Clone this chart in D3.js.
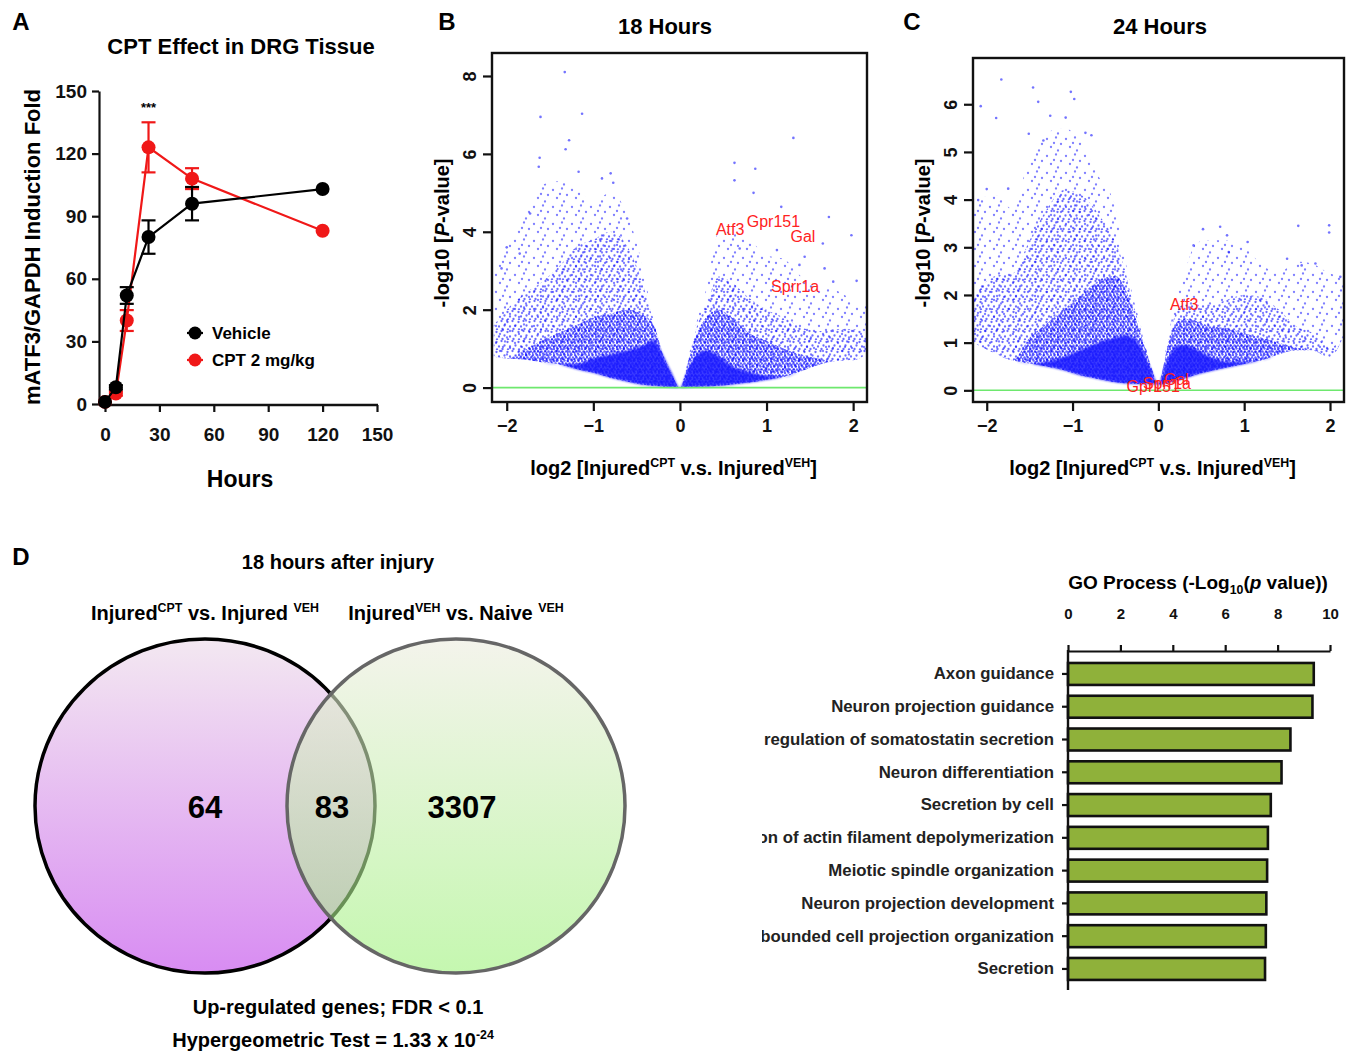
<!DOCTYPE html>
<html>
<head>
<meta charset="utf-8">
<script src="https://cdn.jsdelivr.net/npm/d3@7"></script>
<style>
  body { margin: 0; background: #fff; }
  text { font-family: "Liberation Sans", Arial, sans-serif; }
</style>
</head>
<body>
<svg id="fig" width="1352" height="1053"></svg>
<script>
// ---------- Panel A: ATF3 time course ----------
const hours = [0, 6, 12, 24, 48, 120];
const vehicleMean = [1, 8, 52, 80, 96, 103];
const vehicleErr = [0, 1, 4, 8, 8, 0];
const cptMean = [1, 5, 40, 123, 108, 83];
const cptErr = [0, 1, 5, 12, 5, 0];
const aTicks = [0, 30, 60, 90, 120, 150];

// ---------- Panel B: volcano 18 h (cloud outline and density bands) ----------
const volcBX = [-2.15, -2.0, -1.8, -1.6, -1.4, -1.2, -1.0, -0.8, -0.6, -0.45, -0.3, -0.2, -0.1, 0,
                0.1, 0.2, 0.3, 0.45, 0.6, 0.8, 1.0, 1.2, 1.4, 1.6, 1.8, 2.0, 2.15];
const volcBLow = [0.8, 0.75, 0.72, 0.65, 0.6, 0.48, 0.38, 0.25, 0.15, 0.08, 0.05, 0.03, 0.01, 0,
                  0.01, 0.02, 0.03, 0.05, 0.08, 0.13, 0.2, 0.28, 0.42, 0.58, 0.68, 0.7, 0.85];
const volcBSparse = [2.9, 3.6, 4.4, 5.2, 5.3, 5.1, 4.8, 5.0, 4.4, 3.3, 1.7, 0.88, 0.4, 0,
                     0.8, 1.75, 2.5, 4.0, 4.0, 3.8, 3.4, 3.3, 2.85, 2.6, 2.5, 2.25, 2.1];
const volcBMedium = [1.6, 2.0, 2.4, 2.7, 3.1, 3.6, 3.8, 4.0, 3.6, 2.8, 1.65, 0.85, 0.4, 0,
                     0.75, 1.6, 2.1, 2.85, 2.7, 2.3, 2.0, 1.8, 1.55, 1.45, 1.5, 1.5, 1.4];
const volcBDense = [0, 0, 0.95, 1.2, 1.4, 1.6, 1.8, 1.9, 2.0, 1.9, 1.6, 0.88, 0.4, 0,
                    0.7, 1.4, 1.8, 2.0, 1.8, 1.4, 1.2, 1.0, 0.85, 0.75, 0, 0, 0];
const volcBSolid = [0, 0, 0, 0, 0, 0.6, 0.75, 0.85, 0.95, 1.05, 1.2, 0.85, 0.4, 0,
                    0.5, 0.85, 0.95, 0.8, 0.55, 0.4, 0.3, 0, 0, 0, 0, 0, 0];
const volcBOut = [[-1.33, 8.1], [-1.61, 6.95], [-1.13, 7.03], [-1.28, 6.35], [-1.32, 6.12], [-1.62, 5.9],
                  [-1.63, 5.67], [-1.17, 5.54], [-0.8, 5.5], [-0.77, 5.26], [-0.9, 5.37], [1.31, 6.41],
                  [0.63, 5.77], [0.63, 5.32], [0.87, 5.62], [0.85, 5.0], [1.17, 4.64], [1.72, 4.38],
                  [1.98, 3.91], [1.65, 3.7], [1.38, 3.15], [1.67, 3.06], [1.77, 2.72], [2.04, 2.74],
                  [-2.06, 3.06], [-2.0, 3.6], [-1.85, 3.44], [-1.73, 4.47], [-0.61, 4.34], [1.12, 3.53],
                  [1.44, 3.36], [0.69, 3.57]];
const volcBGenes = ["Atf3", "Gpr151", "Gal", "Sprr1a"];
const volcBGeneXY = [[0.58, 4.04], [1.08, 4.26], [1.42, 3.87], [1.33, 2.59]];

// ---------- Panel C: volcano 24 h ----------
const volcCX = [-2.15, -1.9, -1.7, -1.5, -1.3, -1.1, -0.9, -0.7, -0.5, -0.4, -0.3, -0.2, -0.1, 0,
                0.1, 0.2, 0.3, 0.45, 0.6, 0.8, 1.0, 1.2, 1.4, 1.6, 1.8, 2.0, 2.15];
const volcCLow = [1.0, 0.77, 0.63, 0.56, 0.5, 0.42, 0.31, 0.24, 0.17, 0.15, 0.14, 0.13, 0.13, 0.12,
                  0.15, 0.2, 0.25, 0.33, 0.4, 0.48, 0.55, 0.63, 0.75, 0.84, 0.84, 0.7, 1.1];
const volcCSparse = [4.0, 4.1, 3.8, 4.9, 5.4, 5.5, 5.2, 4.5, 3.85, 2.87, 2.0, 1.33, 0.63, 0.15,
                     0.98, 1.9, 2.45, 3.1, 3.15, 3.15, 3.0, 2.65, 2.45, 2.7, 2.65, 2.45, 2.4];
const volcCMedium = [2.0, 2.4, 2.45, 3.15, 3.8, 4.2, 4.1, 3.7, 3.1, 2.6, 1.85, 1.25, 0.6, 0.15,
                     0.9, 1.6, 1.8, 1.8, 1.8, 1.9, 2.0, 1.95, 1.7, 1.35, 1.2, 0.9, 0];
const volcCDense = [0, 0, 0, 1.1, 1.4, 1.7, 2.0, 2.3, 2.4, 2.2, 1.7, 1.15, 0.58, 0.14,
                    0.85, 1.4, 1.5, 1.45, 1.35, 1.3, 1.2, 1.1, 1.0, 0.9, 0, 0, 0];
const volcCSolid = [0, 0, 0, 0, 0.6, 0.7, 0.85, 1.0, 1.1, 1.15, 1.1, 0.9, 0.5, 0.14,
                    0.6, 0.9, 0.95, 0.85, 0.7, 0.6, 0.6, 0, 0, 0, 0, 0, 0];
const volcCOut = [[-1.83, 6.52], [-2.07, 5.96], [-1.89, 5.71], [-1.46, 6.35], [-1.4, 6.05], [-1.02, 6.26],
                  [-0.98, 6.11], [-1.26, 5.76], [-1.08, 5.72], [-1.51, 5.38], [-1.34, 5.24], [-0.85, 5.4],
                  [-0.78, 5.35], [-2.0, 4.22], [-2.1, 3.99], [-1.75, 4.23], [0.52, 3.38], [0.72, 3.43],
                  [0.8, 3.25], [1.04, 3.11], [1.63, 3.45], [1.99, 3.46], [1.99, 3.31], [1.5, 2.76],
                  [1.67, 2.62], [1.83, 2.66], [2.12, 2.38], [0.41, 3.04], [0.82, 2.9]];
const volcCGenes = ["Atf3", "Gpr151", "Sprr1a", "Gal"];
const volcCGeneXY = [[0.3, 1.78], [-0.06, 0.07], [0.1, 0.14], [0.21, 0.21]];
const volcXTicks = [-2, -1, 0, 1, 2];

// ---------- Panel D: Venn counts ----------
const vennCounts = [64, 83, 3307];

// ---------- Panel D: GO processes ----------
const goTerms = ["Axon guidance", "Neuron projection guidance", "regulation of somatostatin secretion",
                 "Neuron differentiation", "Secretion by cell", "Regulation of actin filament depolymerization",
                 "Meiotic spindle organization", "Neuron projection development",
                 "Plasma membrane bounded cell projection organization", "Secretion"];
const goValues = [9.38, 9.33, 8.49, 8.15, 7.74, 7.63, 7.6, 7.57, 7.55, 7.52];
const goTicks = [0, 2, 4, 6, 8, 10];

const svg = d3.select("#fig");
const defs = svg.append("defs");
svg.append("rect").attr("width", 1352).attr("height", 1053).attr("fill", "#fff");

// write text made of plain / superscript / subscript / italic pieces
function richText(sel, parts, size) {
  let shift = 0;
  parts.forEach(([t, kind]) => {
    const ts = sel.append("tspan").text(t);
    let target = 0;
    if (kind === "sup") { target = -size * 0.42; ts.attr("font-size", size * 0.62); }
    if (kind === "sub") { target = size * 0.25; ts.attr("font-size", size * 0.65); }
    if (kind === "i") ts.attr("font-style", "italic");
    ts.attr("dy", target - shift);
    shift = target;
  });
}

function panelLetter(letter, x, y) {
  svg.append("text").attr("x", x).attr("y", y).attr("font-size", 24).attr("font-weight", "bold")
    .attr("text-anchor", "middle").text(letter);
}

function styleAxis(g, size) {
  g.selectAll("text").attr("font-size", size).attr("font-weight", "bold").attr("fill", "#111");
  g.selectAll("line, path").attr("stroke", "#111").attr("stroke-width", 2.2);
}

// ================= Panel A =================
function drawPanelA() {
  const x = d3.scaleLinear().domain([0, 150]).range([105, 377]);
  const y = d3.scaleLinear().domain([0, 150]).range([404, 91]);
  const g = svg.append("g");

  const yAxis = g.append("g").attr("transform", "translate(99,0)")
    .call(d3.axisLeft(y).tickValues(aTicks).tickSize(7).tickPadding(5).tickSizeOuter(0));
  styleAxis(yAxis, 19);
  const xAxis = g.append("g").attr("transform", "translate(0,405)")
    .call(d3.axisBottom(x).tickValues(aTicks).tickSize(7).tickPadding(16).tickSizeOuter(0));
  xAxis.select(".domain").remove();
  styleAxis(xAxis, 19);
  g.append("line").attr("x1", 99).attr("x2", 378).attr("y1", 405).attr("y2", 405)
    .attr("stroke", "#111").attr("stroke-width", 2.4);

  const series = [
    { mean: cptMean, err: cptErr, color: "#f01818" },
    { mean: vehicleMean, err: vehicleErr, color: "#000" }
  ];
  series.forEach(s => {
    const pts = hours.map((h, i) => ({ h, m: s.mean[i], e: s.err[i] }));
    g.append("path").datum(pts)
      .attr("d", d3.line().x(d => x(d.h)).y(d => y(d.m)))
      .attr("fill", "none").attr("stroke", s.color).attr("stroke-width", 2.2);
    const eb = g.append("g").selectAll("g").data(pts.filter(d => d.e > 0)).enter().append("g")
      .attr("stroke", s.color).attr("stroke-width", 2.2);
    eb.append("line").attr("x1", d => x(d.h)).attr("x2", d => x(d.h))
      .attr("y1", d => y(d.m - d.e)).attr("y2", d => y(d.m + d.e));
    [-1, 1].forEach(sign => {
      eb.append("line").attr("x1", d => x(d.h) - 7).attr("x2", d => x(d.h) + 7)
        .attr("y1", d => y(d.m + sign * d.e)).attr("y2", d => y(d.m + sign * d.e));
    });
    g.append("g").selectAll("circle").data(pts).enter().append("circle")
      .attr("cx", d => x(d.h)).attr("cy", d => y(d.m)).attr("r", 7).attr("fill", s.color);
  });

  g.append("text").attr("x", x(24)).attr("y", 112).attr("text-anchor", "middle")
    .attr("font-size", 13).attr("font-weight", "bold").text("***");

  // legend
  [["Vehicle", "#000", 333], ["CPT 2 mg/kg", "#f01818", 360]].forEach(([lab, c, ly]) => {
    g.append("line").attr("x1", 187).attr("x2", 203).attr("y1", ly).attr("y2", ly)
      .attr("stroke", c).attr("stroke-width", 2.2);
    g.append("circle").attr("cx", 195).attr("cy", ly).attr("r", 6.5).attr("fill", c);
    g.append("text").attr("x", 212).attr("y", ly + 6).attr("font-size", 17).attr("font-weight", "bold").text(lab);
  });

  g.append("text").attr("x", 241).attr("y", 54).attr("text-anchor", "middle")
    .attr("font-size", 22).attr("font-weight", "bold").text("CPT Effect in DRG Tissue");
  g.append("text").attr("transform", "translate(40,247) rotate(-90)").attr("text-anchor", "middle")
    .attr("font-size", 22).attr("font-weight", "bold").text("mATF3/GAPDH Induction Fold");
  g.append("text").attr("x", 240).attr("y", 487).attr("text-anchor", "middle")
    .attr("font-size", 23).attr("font-weight", "bold").text("Hours");
  panelLetter("A", 21, 30);
}

// ================= Volcano panels =================
function makeDotPattern(id, w, h, dots, r, op) {
  const p = defs.append("pattern").attr("id", id).attr("patternUnits", "userSpaceOnUse")
    .attr("width", w).attr("height", h);
  dots.forEach(([dx, dy]) => p.append("circle").attr("cx", dx).attr("cy", dy).attr("r", r)
    .attr("fill", "#0000ff").attr("fill-opacity", op));
}
makeDotPattern("dotsSparse", 19, 17, [[2, 3], [11, 1.5], [16, 8], [6, 11], [13, 14.5], [9, 7]], 1.15, 0.5);
makeDotPattern("dotsMedium", 11, 10, [[1.5, 2], [6.5, 1], [9.5, 5.5], [4, 6.5], [7.5, 9], [2, 9.5]], 1.15, 0.58);
makeDotPattern("dotsDense", 7, 6, [[1, 1], [4.5, 0.5], [6, 3.5], [2.5, 3.5], [4, 5.5], [0.5, 5]], 1.2, 0.62);
// soft edge for the saturated core of each cloud
const soften = defs.append("filter").attr("id", "soften").attr("x", "-5%").attr("y", "-5%")
  .attr("width", "110%").attr("height", "110%");
soften.append("feGaussianBlur").attr("stdDeviation", 1.3);

function drawVolcano(o) {
  const x = d3.scaleLinear().domain(o.xDomain).range([o.left, o.right]);
  const y = d3.scaleLinear().domain(o.yDomain).range([o.bottom, o.top]);
  const g = svg.append("g");
  defs.append("clipPath").attr("id", o.id + "Clip").append("rect")
    .attr("x", o.left).attr("y", o.top).attr("width", o.right - o.left).attr("height", o.bottom - o.top);
  const plot = g.append("g").attr("clip-path", `url(#${o.id}Clip)`);

  const layer = (tops, fill, filter) => {
    const area = d3.area()
      .x((d, i) => x(o.xs[i]))
      .y0((d, i) => y(o.low[i]))
      .y1((d, i) => y(Math.max(o.low[i], tops[i])))
      .curve(d3.curveMonotoneX);
    const p = plot.append("path").datum(tops).attr("d", area).attr("fill", fill);
    if (filter) p.attr("filter", filter);
  };
  layer(o.sparse, "url(#dotsSparse)");
  layer(o.medium, "url(#dotsMedium)");
  layer(o.dense, "url(#dotsDense)");
  layer(o.solid, "rgba(25,25,255,0.85)", "url(#soften)");

  plot.append("g").selectAll("circle").data(o.outliers).enter().append("circle")
    .attr("cx", d => x(d[0])).attr("cy", d => y(d[1])).attr("r", 1.3)
    .attr("fill", "#0000ff").attr("fill-opacity", 0.55);

  plot.append("line").attr("x1", o.left).attr("x2", o.right).attr("y1", y(0)).attr("y2", y(0))
    .attr("stroke", "#6ee86e").attr("stroke-width", 1.6);

  g.append("g").selectAll("text").data(o.genes).enter().append("text")
    .attr("x", (d, i) => x(o.geneXY[i][0])).attr("y", (d, i) => y(o.geneXY[i][1]) + 5)
    .attr("text-anchor", "middle").attr("font-size", 16).attr("fill", "#ff2222").text(d => d);

  const xAxis = g.append("g").attr("transform", `translate(0,${o.bottom})`)
    .call(d3.axisBottom(x).tickValues(volcXTicks).tickSize(9).tickPadding(8).tickSizeOuter(0)
      .tickFormat(d3.format("d")));
  xAxis.select(".domain").remove();
  styleAxis(xAxis, 18);
  const yAxis = g.append("g").attr("transform", `translate(${o.left},0)`)
    .call(d3.axisLeft(y).tickValues(o.yTicks).tickSize(9).tickSizeOuter(0));
  yAxis.select(".domain").remove();
  styleAxis(yAxis, 18);
  yAxis.selectAll(".tick text").attr("x", null).attr("dy", null)
    .attr("text-anchor", "middle").attr("transform", "translate(-16,0) rotate(-90)");

  g.append("rect").attr("x", o.left).attr("y", o.top).attr("width", o.right - o.left)
    .attr("height", o.bottom - o.top).attr("fill", "none").attr("stroke", "#111").attr("stroke-width", 2.4);

  g.append("text").attr("x", o.titleX).attr("y", 34).attr("text-anchor", "middle")
    .attr("font-size", 22).attr("font-weight", "bold").text(o.title);
  const yl = g.append("text").attr("transform", `translate(${o.left - 43},${o.yLabelY}) rotate(-90)`)
    .attr("text-anchor", "middle").attr("font-size", 20).attr("font-weight", "bold");
  richText(yl, [["-log10 [", null], ["P", "i"], ["-value]", null]], 20);
  const xl = g.append("text").attr("x", (o.left + o.right) / 2 - 6).attr("y", 475)
    .attr("text-anchor", "middle").attr("font-size", 20).attr("font-weight", "bold");
  richText(xl, [["log2 [Injured", null], ["CPT", "sup"], [" v.s. Injured", null], ["VEH", "sup"], ["]", null]], 20);
  panelLetter(o.letter, o.letterX, 30);
}

// ================= Venn =================
function drawVenn() {
  const g = svg.append("g");
  const grad = (id, top, bottom) => {
    const lg = defs.append("linearGradient").attr("id", id).attr("x1", 0).attr("y1", 0).attr("x2", 0).attr("y2", 1);
    lg.append("stop").attr("offset", "0%").attr("stop-color", top);
    lg.append("stop").attr("offset", "100%").attr("stop-color", bottom);
  };
  grad("vennLeft", "#f3e8f1", "#d88cf2");
  grad("vennRight", "#ececde", "#9ef27b");

  g.append("ellipse").attr("cx", 205).attr("cy", 806).attr("rx", 170).attr("ry", 167)
    .attr("fill", "url(#vennLeft)").attr("stroke", "#000").attr("stroke-width", 3.5);
  g.append("ellipse").attr("cx", 456).attr("cy", 806).attr("rx", 169).attr("ry", 167)
    .attr("fill", "url(#vennRight)").attr("fill-opacity", 0.6)
    .attr("stroke", "#666").attr("stroke-width", 3.5);

  const xs = [205, 332, 462];
  g.selectAll("text.count").data(vennCounts).enter().append("text").attr("class", "count")
    .attr("x", (d, i) => xs[i]).attr("y", 818).attr("text-anchor", "middle")
    .attr("font-size", 31).attr("font-weight", "bold").text(d => d);

  g.append("text").attr("x", 338).attr("y", 569).attr("text-anchor", "middle")
    .attr("font-size", 20).attr("font-weight", "bold").text("18 hours after injury");
  const l1 = g.append("text").attr("x", 205).attr("y", 620).attr("text-anchor", "middle")
    .attr("font-size", 20).attr("font-weight", "bold");
  richText(l1, [["Injured", null], ["CPT", "sup"], [" vs. Injured ", null], ["VEH", "sup"]], 20);
  const l2 = g.append("text").attr("x", 456).attr("y", 620).attr("text-anchor", "middle")
    .attr("font-size", 20).attr("font-weight", "bold");
  richText(l2, [["Injured", null], ["VEH", "sup"], [" vs. Naive ", null], ["VEH", "sup"]], 20);
  g.append("text").attr("x", 338).attr("y", 1014).attr("text-anchor", "middle")
    .attr("font-size", 20).attr("font-weight", "bold").text("Up-regulated genes; FDR < 0.1");
  const l3 = g.append("text").attr("x", 333).attr("y", 1047).attr("text-anchor", "middle")
    .attr("font-size", 20).attr("font-weight", "bold");
  richText(l3, [["Hypergeometric Test = 1.33 x 10", null], ["-24", "sup"]], 20);
  panelLetter("D", 21, 565);
}

// ================= GO bars =================
function drawGO() {
  const x = d3.scaleLinear().domain([0, 10]).range([1068, 1330]);
  const y = d3.scaleBand().domain(goTerms).range([657.4, 985.5]).paddingInner(0.33).paddingOuter(0.17);
  const g = svg.append("g");
  defs.append("clipPath").attr("id", "goClip").append("rect")
    .attr("x", 762).attr("y", 600).attr("width", 590).attr("height", 420);

  g.append("g").selectAll("rect").data(goTerms).enter().append("rect")
    .attr("x", x(0)).attr("y", d => y(d)).attr("width", (d, i) => x(goValues[i]) - x(0))
    .attr("height", y.bandwidth()).attr("fill", "#8fb13a").attr("stroke", "#111").attr("stroke-width", 2.6);

  const top = g.append("g").attr("transform", "translate(0,651)")
    .call(d3.axisTop(x).tickValues(goTicks).tickSize(6).tickPadding(26).tickSizeOuter(0));
  styleAxis(top, 15);
  // category labels are cut off on the left as in the original figure
  const leftWrap = g.append("g").attr("clip-path", "url(#goClip)");
  const left = leftWrap.append("g").attr("transform", "translate(1068,0)")
    .call(d3.axisLeft(y).tickSize(6).tickPadding(8).tickSizeOuter(0));
  left.select(".domain").remove();
  styleAxis(left, 16.8);
  left.selectAll(".tick text").attr("fill", "#222");
  g.append("line").attr("x1", 1068).attr("x2", 1068).attr("y1", 650).attr("y2", 990)
    .attr("stroke", "#111").attr("stroke-width", 2.4);

  const t = g.append("text").attr("x", 1198).attr("y", 589).attr("text-anchor", "middle")
    .attr("font-size", 19).attr("font-weight", "bold");
  richText(t, [["GO Process (-Log", null], ["10", "sub"], ["(", null], ["p", "i"], [" value))", null]], 19);
}

drawPanelA();
drawVolcano({ id: "volcB", left: 492, right: 867, top: 53, bottom: 402, xDomain: [-2.17, 2.16], yDomain: [-0.37, 8.59],
  yTicks: [0, 2, 4, 6, 8], xs: volcBX, low: volcBLow, sparse: volcBSparse, medium: volcBMedium, dense: volcBDense,
  solid: volcBSolid, outliers: volcBOut, genes: volcBGenes, geneXY: volcBGeneXY, title: "18 Hours", titleX: 665,
  yLabelY: 233, letter: "B", letterX: 447 });
drawVolcano({ id: "volcC", left: 973, right: 1344, top: 58, bottom: 402, xDomain: [-2.16, 2.163], yDomain: [-0.245, 6.97],
  yTicks: [0, 1, 2, 3, 4, 5, 6], xs: volcCX, low: volcCLow, sparse: volcCSparse, medium: volcCMedium, dense: volcCDense,
  solid: volcCSolid, outliers: volcCOut, genes: volcCGenes, geneXY: volcCGeneXY, title: "24 Hours", titleX: 1160,
  yLabelY: 233, letter: "C", letterX: 912 });
drawVenn();
drawGO();
</script>
</body>
</html>
